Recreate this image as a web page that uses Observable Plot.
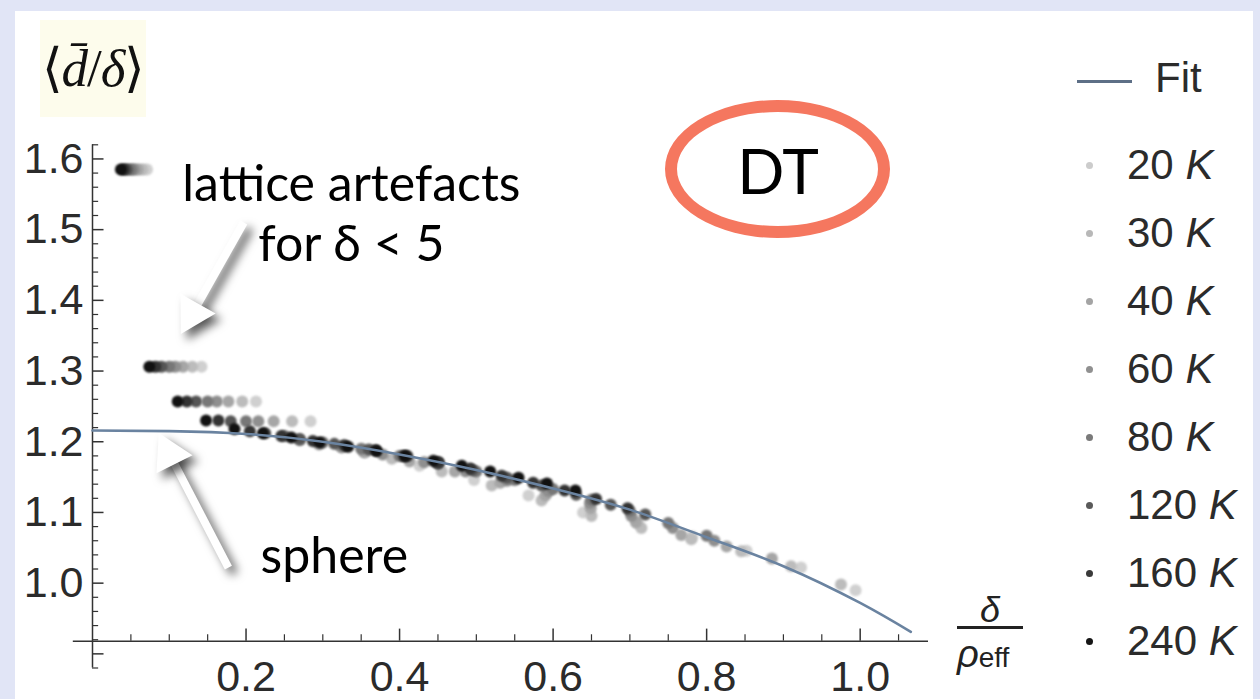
<!DOCTYPE html>
<html>
<head>
<meta charset="utf-8">
<script src="https://cdn.jsdelivr.net/npm/d3@7"></script>
<script src="https://cdn.jsdelivr.net/npm/@observablehq/plot@0.6"></script>
<style>
html,body{margin:0;padding:0;}
body{width:1260px;height:699px;overflow:hidden;background:#e1e5f6;font-family:"Liberation Sans",Arial,sans-serif;}
#stage{position:relative;width:1260px;height:699px;}
#panel{position:absolute;left:15px;top:11px;width:1238px;height:688px;background:#fff;}
#ylab{position:absolute;left:40px;top:20px;width:106px;height:97px;background:#fdfcec;font-family:"Liberation Serif",serif;font-size:53px;line-height:97px;text-align:center;color:#111;white-space:nowrap;letter-spacing:-1px;}
#ellipse{position:absolute;left:665px;top:100px;width:225px;height:138px;box-sizing:border-box;border:12px solid #f5775f;border-radius:50%;}
#chart{position:absolute;left:0;top:0;}
#xlab{position:absolute;left:950px;top:590px;width:80px;height:90px;color:#222;}
#xlab .num{position:absolute;left:0;width:80px;top:0;text-align:center;font-style:italic;font-size:36px;line-height:40px;}
#xlab .bar{position:absolute;left:7px;top:36px;width:66px;height:3px;background:#222;}
#xlab .den{position:absolute;left:7px;top:44px;font-size:36px;line-height:40px;white-space:nowrap;}
#xlab .den i{font-size:38px;}
#xlab .den span{font-size:28px;}
#legend{position:absolute;left:1050px;top:40px;width:195px;height:645px;}
.lrow{position:absolute;left:0;height:40px;}
.lrow .sw{position:absolute;border-radius:50%;}
.lrow .tx{position:absolute;left:77px;top:0;font-size:42px;line-height:40px;color:#2b2b2b;white-space:nowrap;}
</style>
</head>
<body>
<div id="stage">
  <div id="panel"></div>
  <div id="ylab">⟨<i>d̄</i>/<i>δ</i>⟩</div>
  <div id="ellipse"></div>
  <div id="legend"></div>
  <div id="xlab"><div class="num">δ</div><div class="bar"></div><div class="den"><i>ρ</i><span>eff</span></div></div>
  <div id="chart"></div>
</div>
<script>
// ---- data ----
const temps = ["20", "30", "40", "60", "80", "120", "160", "240"];
const dotColors = ["#d0d0d0", "#bcbcbc", "#a6a6a6", "#8f8f8f", "#777777", "#555555", "#333333", "#111111"];
const legendColors = ["#cccccc", "#b8b8b8", "#a4a4a4", "#909090", "#7a7a7a", "#5a5a5a", "#3a3a3a", "#151515"];

const x20 = [0.071,0.142,0.213,0.284,0.355,0.426,0.497,0.568,0.639,0.710,0.781,0.852,0.923,0.994];
const y20 = [1.585,1.306,1.257,1.229,1.185,1.166,1.146,1.124,1.100,1.085,1.066,1.046,1.022,0.990];
const x30 = [0.065,0.130,0.195,0.260,0.325,0.390,0.455,0.520,0.585,0.650,0.715,0.780,0.845,0.910,0.975];
const y30 = [1.585,1.306,1.257,1.229,1.192,1.176,1.158,1.138,1.117,1.095,1.078,1.062,1.045,1.024,0.998];
const x40 = [0.059,0.118,0.177,0.236,0.295,0.354,0.413,0.472,0.531,0.590,0.649,0.708,0.767,0.826,0.885];
const y40 = [1.585,1.306,1.257,1.229,1.196,1.185,1.172,1.158,1.142,1.124,1.106,1.086,1.068,1.052,1.035];
const x60 = [0.054,0.108,0.162,0.216,0.270,0.324,0.378,0.432,0.486,0.540,0.594,0.648,0.702,0.756,0.810];
const y60 = [1.585,1.306,1.257,1.229,1.202,1.193,1.182,1.171,1.158,1.145,1.130,1.113,1.095,1.078,1.060];
const x80 = [0.050,0.100,0.150,0.200,0.250,0.300,0.350,0.400,0.450,0.500,0.550,0.600,0.650,0.700,0.750,0.800];
const y80 = [1.585,1.306,1.257,1.229,1.208,1.199,1.190,1.180,1.169,1.158,1.146,1.133,1.118,1.102,1.085,1.067];
const x120 = [0.045,0.090,0.135,0.180,0.225,0.270,0.315,0.360,0.405,0.450,0.495,0.540,0.585,0.630,0.675,0.720];
const y120 = [1.585,1.306,1.257,1.229,1.212,1.204,1.197,1.189,1.180,1.170,1.160,1.149,1.138,1.125,1.111,1.097];
const x160 = [0.041,0.082,0.123,0.164,0.205,0.246,0.287,0.328,0.369,0.410,0.451,0.492,0.533,0.574,0.615,0.656,0.697];
const y160 = [1.585,1.306,1.257,1.230,1.215,1.208,1.201,1.195,1.188,1.180,1.171,1.162,1.152,1.142,1.131,1.119,1.106];
const x240 = [0.037,0.074,0.111,0.148,0.185,0.222,0.259,0.296,0.333,0.370,0.407,0.444,0.481,0.518,0.555,0.592,0.629];
const y240 = [1.585,1.306,1.257,1.230,1.218,1.212,1.206,1.199,1.193,1.187,1.180,1.173,1.166,1.158,1.149,1.141,1.131];

const fitX = [0, 0.1, 0.2, 0.3, 0.4, 0.5, 0.6, 0.7, 0.8, 0.9, 1.0, 1.066];
const fitY = [1.216, 1.215, 1.211, 1.200, 1.182, 1.160, 1.134, 1.104, 1.065, 1.024, 0.972, 0.931];

const xMajorTicks = [0.2, 0.4, 0.6, 0.8, 1.0];
const xTickLabels = ["0.2", "0.4", "0.6", "0.8", "1.0"];
const yMajorTicks = [0.9, 1.0, 1.1, 1.2, 1.3, 1.4, 1.5, 1.6];
const yTickLabels = ["1.0", "1.1", "1.2", "1.3", "1.4", "1.5", "1.6"];

const noteText = ["lattice artefacts", "for δ < 5", "sphere"];
const noteX = [0.117, 0.216, 0.219];
const noteY = [1.541, 1.456, 1.015];
const badgeText = ["DT"];
const badgeX = [0.893];
const badgeY = [1.551];

const arrowTailX = [0.197, 0.177];
const arrowTailY = [1.510, 1.022];
const arrowHeadX = [0.130, 0.100];
const arrowHeadY = [1.381, 1.183];
const arrowAngle = [209.5, -26.6];

// ---- build tables ----
const xsBy = {"20": x20, "30": x30, "40": x40, "60": x60, "80": x80, "120": x120, "160": x160, "240": x240};
const ysBy = {"20": y20, "30": y30, "40": y40, "60": y60, "80": y80, "120": y120, "160": y160, "240": y240};
const fit = fitX.map((x, i) => ({x, y: fitY[i]}));
const xMinor = d3.range(1, 22).map(i => +(i * 0.05).toFixed(2)).filter(v => !xMajorTicks.includes(v));
const yMinor = d3.range(44, 82).map(i => +(i * 0.02).toFixed(2)).filter(v => !yMajorTicks.some(m => Math.abs(m - v) < 1e-6));
const notes = noteText.map((t, i) => ({t, x: noteX[i], y: noteY[i]}));
const badge = badgeText.map((t, i) => ({t, x: badgeX[i], y: badgeY[i]}));
const arrows = arrowTailX.map((x, i) => ({x1: x, y1: arrowTailY[i], x2: arrowHeadX[i], y2: arrowHeadY[i], a: arrowAngle[i]}));

const axisY0 = 0.918;
const sans = "'Liberation Sans', Arial, sans-serif";
const ann = "Lato, 'Open Sans', sans-serif";

const seriesMarks = temps.map((t, k) => Plot.dot(xsBy[t].map((x, i) => ({x, y: ysBy[t][i]})), {
  x: "x", y: "y", r: 6, fill: dotColors[k], stroke: "none"
}));

const plot = Plot.plot({
  width: 1260,
  height: 699,
  style: {background: "transparent", overflow: "visible"},
  x: {domain: [0, 1.089], range: [92, 928], axis: null},
  y: {domain: [0.88, 1.62], range: [667.5, 144.3], axis: null},
  marks: [
    // arrows (white with shadow): first link mark and first dot mark
    Plot.link(arrows, {x1: "x1", y1: "y1", x2: "x2", y2: "y2", stroke: "white", strokeWidth: 8}),
    Plot.dot(arrows, {x: "x2", y: "y2", symbol: "triangle", r: 15, rotate: "a", fill: "white", stroke: "none"}),
    // axes
    Plot.ruleY([axisY0], {x1: -0.025, x2: 1.089, stroke: "#333", strokeWidth: 1.5}),
    Plot.ruleX([0], {y1: 0.88, y2: 1.62, stroke: "#333", strokeWidth: 1.5}),
    Plot.ruleX(xMajorTicks, {y1: axisY0, y2: axisY0 + 0.017, stroke: "#333", strokeWidth: 1.5}),
    Plot.ruleX(xMinor, {y1: axisY0, y2: axisY0 + 0.009, stroke: "#333", strokeWidth: 1.2}),
    Plot.ruleY(yMajorTicks, {x1: 0, x2: 0.015, stroke: "#333", strokeWidth: 1.5}),
    Plot.ruleY(yMinor, {x1: 0, x2: 0.008, stroke: "#333", strokeWidth: 1.2}),
    Plot.text(xMajorTicks, {x: d => d, y: 0.8666, text: (d, i) => xTickLabels[i], fontSize: 43, fontFamily: sans, fill: "#2b2b2b", lineAnchor: "middle"}),
    Plot.text(yTickLabels, {x: -0.0117, y: d => +d, text: d => d, fontSize: 43, fontFamily: sans, fill: "#2b2b2b", textAnchor: "end", lineAnchor: "middle"}),
    // data
    ...seriesMarks,
    Plot.line(fit, {x: "x", y: "y", stroke: "#6a83a0", strokeWidth: 2.6, curve: "natural"}),
    // annotations
    Plot.text(notes, {x: "x", y: "y", text: "t", fontSize: 50, fontFamily: ann, fill: "#000", textAnchor: "start", lineAnchor: "bottom"}),
    Plot.text(badge, {x: "x", y: "y", text: "t", fontSize: 62, fontFamily: ann, fill: "#000", textAnchor: "middle", lineAnchor: "bottom"})
  ]
});
document.getElementById("chart").appendChild(plot);
const linkG = plot.querySelector('g[aria-label="link"]');
const dotGs = Array.from(plot.querySelectorAll('g[aria-label="dot"]'));
if (linkG) linkG.setAttribute("style", "filter: drop-shadow(6px 6px 5px rgba(0,0,0,0.6))");
if (dotGs[0]) dotGs[0].setAttribute("style", "filter: drop-shadow(6px 6px 5px rgba(0,0,0,0.6))");
dotGs.slice(1).forEach(g => g.setAttribute("style", "filter: blur(1.2px)"));

// ---- legend ----
const legend = document.getElementById("legend");
const fitRow = document.createElement("div");
fitRow.className = "lrow";
fitRow.style.top = (78 - 40 - 20) + "px";
fitRow.innerHTML = '<div style="position:absolute;left:27px;top:22px;width:55px;height:3px;background:#5d6f86"></div><div class="tx" style="left:105px">Fit</div>';
legend.appendChild(fitRow);
temps.forEach((t, i) => {
  const cy = 165 + i * 68 - 40;
  const row = document.createElement("div");
  row.className = "lrow";
  row.style.top = (cy - 20) + "px";
  row.innerHTML = '<div class="sw" style="left:36px;top:17px;width:7px;height:7px;background:' + legendColors[i] + '"></div>' +
    '<div class="tx">' + t + ' <i>K</i></div>';
  legend.appendChild(row);
});
</script>
</body>
</html>
